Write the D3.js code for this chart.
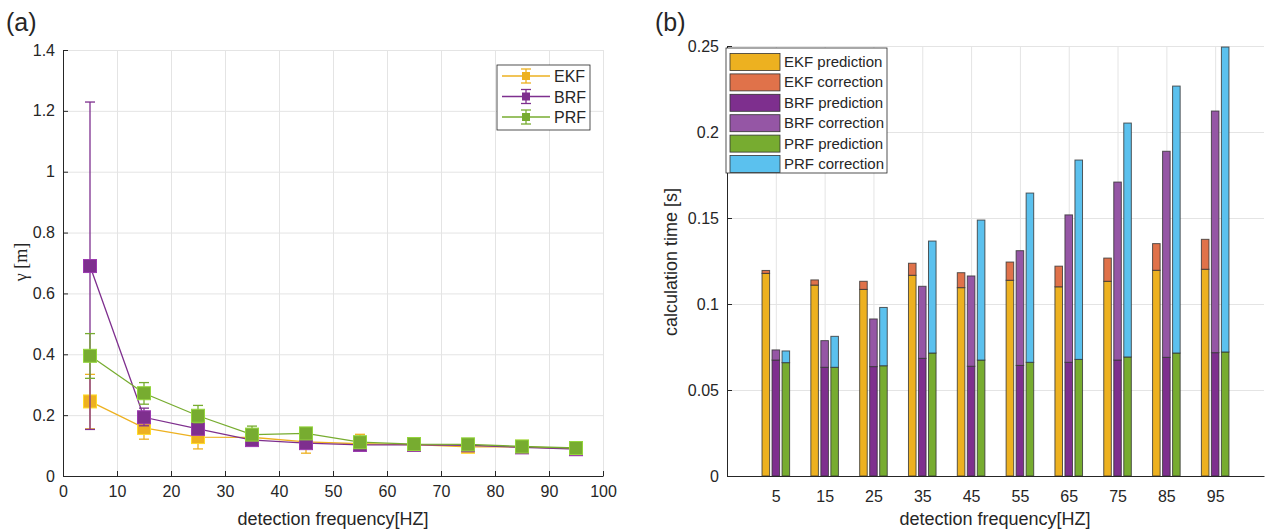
<!DOCTYPE html>
<html>
<head>
<meta charset="utf-8">
<script src="https://cdn.jsdelivr.net/npm/d3@7/dist/d3.min.js"></script>
<style>
    body { margin: 0; background: #fff; }
    svg text { font-family: "Liberation Sans", Arial, Helvetica, sans-serif; fill: #262626; }
</style>
</head>
<body>
<script>
// ---- data: panel (a) ----
const freqs = [5, 15, 25, 35, 45, 55, 65, 75, 85, 95];
const ekfGamma = [0.245, 0.158, 0.128, 0.127, 0.112, 0.106, 0.103, 0.096, 0.096, 0.090];
const ekfLow   = [0.155, 0.121, 0.089, 0.110, 0.075, 0.090, 0.090, 0.080, 0.085, 0.080];
const ekfHigh  = [0.334, 0.190, 0.160, 0.140, 0.140, 0.137, 0.115, 0.110, 0.105, 0.100];
const brfGamma = [0.690, 0.193, 0.155, 0.118, 0.108, 0.102, 0.102, 0.101, 0.094, 0.088];
const brfLow   = [0.153, 0.165, 0.140, 0.105, 0.095, 0.090, 0.090, 0.090, 0.085, 0.080];
const brfHigh  = [1.229, 0.223, 0.170, 0.130, 0.120, 0.110, 0.110, 0.110, 0.100, 0.095];
const prfGamma = [0.395, 0.272, 0.198, 0.136, 0.140, 0.111, 0.105, 0.104, 0.097, 0.092];
const prfLow   = [0.321, 0.236, 0.175, 0.120, 0.125, 0.100, 0.095, 0.095, 0.090, 0.085];
const prfHigh  = [0.468, 0.307, 0.232, 0.164, 0.155, 0.120, 0.115, 0.112, 0.105, 0.100];
const leftXTicks = [0, 10, 20, 30, 40, 50, 60, 70, 80, 90, 100];
const leftYTicks = [0, 0.2, 0.4, 0.6, 0.8, 1, 1.2, 1.4];

// ---- data: panel (b) ----
const groupLabels = ["5", "15", "25", "35", "45", "55", "65", "75", "85", "95"];
const ekfPred = [0.1178, 0.1110, 0.1085, 0.1167, 0.1095, 0.1138, 0.1100, 0.1132, 0.1196, 0.1202];
const ekfCorr = [0.0017, 0.0030, 0.0047, 0.0070, 0.0087, 0.0106, 0.0120, 0.0135, 0.0155, 0.0174];
const brfPred = [0.0674, 0.0632, 0.0636, 0.0684, 0.0638, 0.0643, 0.0661, 0.0674, 0.0690, 0.0717];
const brfCorr = [0.0059, 0.0155, 0.0277, 0.0419, 0.0525, 0.0667, 0.0857, 0.1035, 0.1198, 0.1405];
const prfPred = [0.0659, 0.0632, 0.0641, 0.0715, 0.0674, 0.0661, 0.0678, 0.0692, 0.0715, 0.0721];
const prfCorr = [0.0068, 0.0180, 0.0339, 0.0651, 0.0814, 0.0984, 0.1159, 0.1360, 0.1552, 0.1773];
const rightYTicks = [0, 0.05, 0.1, 0.15, 0.2, 0.25];
const legendNames = ["EKF prediction", "EKF correction", "BRF prediction", "BRF correction", "PRF prediction", "PRF correction"];

const axisColor = "#262626",
    gridColor = "#e4e4e4";

const svg = d3.select("body")
    .append("svg")
    .attr("width", 1271)
    .attr("height", 532);

function styleAxis(g) {
    g.select(".domain").attr("stroke", axisColor);
    g.selectAll(".tick line").attr("stroke", axisColor);
    g.selectAll(".tick text").attr("font-size", 16).style("fill", axisColor);
}

function gridLines(g, scale, values, orient, len) {
    const ax = orient === "x"
        ? d3.axisBottom(scale).tickValues(values).tickSize(-len).tickFormat("")
        : d3.axisLeft(scale).tickValues(values).tickSize(-len).tickFormat("");
    g.call(ax);
    g.select(".domain").remove();
    g.selectAll(".tick line").attr("stroke", gridColor);
}

// ================= panel (a) =================
(function() {
    const x = d3.scaleLinear().domain([0, 100]).range([63, 603]);
    const y = d3.scaleLinear().domain([0, 1.4]).range([476, 50]);

    svg.append("g").attr("transform", "translate(0,476)")
        .call(g => gridLines(g, x, leftXTicks, "x", 426));
    svg.append("g").attr("transform", "translate(63,0)")
        .call(g => gridLines(g, y, leftYTicks, "y", 540));

    svg.append("g").attr("transform", "translate(0,476)")
        .call(d3.axisBottom(x).tickValues(leftXTicks).tickSizeInner(-5).tickSizeOuter(0).tickPadding(10))
        .call(styleAxis);
    svg.append("g").attr("transform", "translate(63,0)")
        .call(d3.axisLeft(y).tickValues(leftYTicks).tickSizeInner(-5).tickSizeOuter(0).tickPadding(8)
            .tickFormat(d3.format("~g")))
        .call(styleAxis);

    const series = [
        {name: "EKF", color: "#EDB120", mean: ekfGamma, lo: ekfLow, hi: ekfHigh},
        {name: "BRF", color: "#7E2F8E", mean: brfGamma, lo: brfLow, hi: brfHigh},
        {name: "PRF", color: "#77AC30", mean: prfGamma, lo: prfLow, hi: prfHigh}
    ];

    const line = d3.line()
        .x(function(d, i) { return x(freqs[i]); })
        .y(function(d) { return y(d); });

    const cap = 5, ms = 13;
    series.forEach(function(s) {
        const g = svg.append("g").attr("class", "series " + s.name);
        g.append("path")
            .datum(s.mean)
            .attr("d", line)
            .attr("fill", "none")
            .attr("stroke", s.color)
            .attr("stroke-width", 1.3);
        // error bars
        freqs.forEach(function(f, i) {
            const cx = x(f);
            g.append("line").attr("x1", cx).attr("x2", cx)
                .attr("y1", y(s.lo[i])).attr("y2", y(s.hi[i]))
                .attr("stroke", s.color).attr("stroke-width", 1.3);
            [s.lo[i], s.hi[i]].forEach(function(v) {
                g.append("line").attr("x1", cx - cap).attr("x2", cx + cap)
                    .attr("y1", y(v)).attr("y2", y(v))
                    .attr("stroke", s.color).attr("stroke-width", 1.3);
            });
        });
        g.selectAll("rect")
            .data(s.mean)
            .enter()
            .append("rect")
            .attr("x", function(d, i) { return x(freqs[i]) - ms / 2; })
            .attr("y", function(d) { return y(d) - ms / 2; })
            .attr("width", ms)
            .attr("height", ms)
            .attr("fill", s.color)
            .attr("stroke", d3.color(s.color).brighter(0.6))
            .attr("stroke-width", 1);
    });

    // legend
    const lg = svg.append("g").attr("transform", "translate(497,65)");
    lg.append("rect").attr("width", 93).attr("height", 65)
        .attr("fill", "#fff").attr("stroke", axisColor).attr("stroke-width", 0.8);
    series.forEach(function(s, i) {
        const cy = 11 + i * 20.5;
        lg.append("line").attr("x1", 5).attr("x2", 53).attr("y1", cy).attr("y2", cy)
            .attr("stroke", s.color).attr("stroke-width", 1.3);
        lg.append("line").attr("x1", 29).attr("x2", 29).attr("y1", cy - 7).attr("y2", cy + 7)
            .attr("stroke", s.color).attr("stroke-width", 1.3);
        [cy - 7, cy + 7].forEach(function(v) {
            lg.append("line").attr("x1", 24).attr("x2", 34).attr("y1", v).attr("y2", v)
                .attr("stroke", s.color).attr("stroke-width", 1.3);
        });
        lg.append("rect").attr("x", 25).attr("y", cy - 4).attr("width", 8).attr("height", 8)
            .attr("fill", s.color);
        lg.append("text").attr("x", 57).attr("y", cy + 6).attr("font-size", 16).text(s.name);
    });

    svg.append("text").attr("x", 333).attr("y", 525).attr("text-anchor", "middle")
        .attr("font-size", 18).text("detection frequency[HZ]");
    svg.append("text")
        .attr("transform", "translate(27,262) rotate(-90)")
        .attr("text-anchor", "middle")
        .attr("font-size", 18)
        .style("font-family", "'Liberation Serif', 'DejaVu Serif', serif")
        .text("γ [m]");
    svg.append("text").attr("x", 6).attr("y", 31).attr("font-size", 25).text("(a)");
})();

// ================= panel (b) =================
(function() {
    const x = d3.scaleLinear().domain([0, 11]).range([727, 1264]);
    const y = d3.scaleLinear().domain([0, 0.25]).range([476, 46]);
    const positions = groupLabels.map(function(d, i) { return i + 1; });

    svg.append("g").attr("transform", "translate(0,476)")
        .call(g => gridLines(g, x, positions, "x", 430));
    svg.append("g").attr("transform", "translate(727,0)")
        .call(g => gridLines(g, y, rightYTicks, "y", 537));

    const barW = 0.155, offset = 0.205;
    const groups = [
        {name: "EKF", off: -offset, pred: ekfPred, corr: ekfCorr, cp: "#EDB120", cc: "#E0724A"},
        {name: "BRF", off: 0, pred: brfPred, corr: brfCorr, cp: "#7E2F8E", cc: "#9556A5"},
        {name: "PRF", off: offset, pred: prfPred, corr: prfCorr, cp: "#77AC30", cc: "#5BC1EE"}
    ];

    groups.forEach(function(gr) {
        const g = svg.append("g").attr("class", "bars " + gr.name);
        g.selectAll(".pred")
            .data(gr.pred)
            .enter()
            .append("rect")
            .attr("class", "pred")
            .attr("x", function(d, i) { return x(positions[i] + gr.off - barW / 2); })
            .attr("width", x(barW) - x(0))
            .attr("y", function(d) { return y(d); })
            .attr("height", function(d) { return y(0) - y(d); })
            .attr("fill", gr.cp)
            .attr("stroke", "#333")
            .attr("stroke-opacity", 0.8)
            .attr("stroke-width", 1);
        g.selectAll(".corr")
            .data(gr.corr)
            .enter()
            .append("rect")
            .attr("class", "corr")
            .attr("x", function(d, i) { return x(positions[i] + gr.off - barW / 2); })
            .attr("width", x(barW) - x(0))
            .attr("y", function(d, i) { return y(gr.pred[i] + d); })
            .attr("height", function(d) { return y(0) - y(d); })
            .attr("fill", gr.cc)
            .attr("stroke", "#333")
            .attr("stroke-opacity", 0.8)
            .attr("stroke-width", 1);
    });

    svg.append("g").attr("transform", "translate(0,476)")
        .call(d3.axisBottom(x).tickValues(positions).tickSizeInner(0).tickSizeOuter(0).tickPadding(15)
            .tickFormat(function(d, i) { return groupLabels[i]; }))
        .call(styleAxis);
    svg.append("g").attr("transform", "translate(727,0)")
        .call(d3.axisLeft(y).tickValues(rightYTicks).tickSizeInner(-5).tickSizeOuter(0).tickPadding(8)
            .tickFormat(d3.format("~g")))
        .call(styleAxis);

    // legend
    const colors = ["#EDB120", "#E0724A", "#7E2F8E", "#9556A5", "#77AC30", "#5BC1EE"];
    const lg = svg.append("g").attr("transform", "translate(726,48)");
    lg.append("rect").attr("width", 161).attr("height", 125)
        .attr("fill", "#fff").attr("stroke", axisColor).attr("stroke-width", 0.8);
    legendNames.forEach(function(n, i) {
        const cy = 14 + i * 20.4;
        lg.append("rect").attr("x", 4).attr("y", cy - 8.5).attr("width", 50).attr("height", 17)
            .attr("fill", colors[i]).attr("stroke", "#333").attr("stroke-width", 0.8);
        lg.append("text").attr("x", 58).attr("y", cy + 5).attr("font-size", 15).text(n);
    });

    svg.append("text").attr("x", 995).attr("y", 525).attr("text-anchor", "middle")
        .attr("font-size", 18).text("detection frequency[HZ]");
    svg.append("text")
        .attr("transform", "translate(677,262) rotate(-90)")
        .attr("text-anchor", "middle")
        .attr("font-size", 18)
        .text("calculation time [s]");
    svg.append("text").attr("x", 655).attr("y", 31).attr("font-size", 25).text("(b)");
})();
</script>
</body>
</html>
